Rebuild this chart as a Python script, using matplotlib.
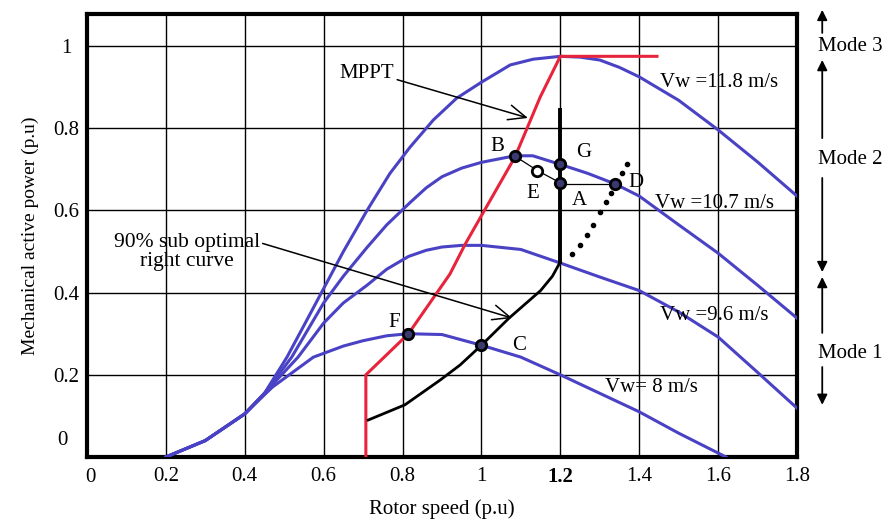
import matplotlib
matplotlib.use("Agg")
import matplotlib.pyplot as plt

plt.rcParams['font.family'] = ['Liberation Serif', 'DejaVu Serif']

# power curves at four wind speeds
vw118_x = [0.2, 0.3, 0.4, 0.45, 0.507, 0.55, 0.6, 0.65, 0.71, 0.768, 0.819, 0.878, 0.937, 1.0,
           1.073, 1.131, 1.2, 1.25, 1.3, 1.35, 1.4, 1.5, 1.6, 1.7, 1.8]
vw118_y = [0.0, 0.04, 0.105, 0.155, 0.243, 0.32, 0.41, 0.50, 0.60, 0.69, 0.754, 0.82, 0.873, 0.912,
           0.954, 0.968, 0.975, 0.973, 0.966, 0.948, 0.925, 0.868, 0.796, 0.718, 0.635]

vw107_x = [0.2, 0.3, 0.4, 0.45, 0.519, 0.6, 0.65, 0.71, 0.76, 0.82, 0.86, 0.9, 0.95, 1.0, 1.085,
           1.13, 1.2, 1.27, 1.34, 1.4, 1.5, 1.6, 1.7, 1.8]
vw107_y = [0.0, 0.04, 0.105, 0.155, 0.243, 0.375, 0.44, 0.51, 0.565, 0.62, 0.655, 0.682, 0.703, 0.717,
           0.733, 0.733, 0.712, 0.69, 0.664, 0.635, 0.565, 0.496, 0.418, 0.338]

vw96_x = [0.2, 0.3, 0.4, 0.45, 0.535, 0.6, 0.65, 0.71, 0.76, 0.815, 0.86, 0.9, 0.95, 1.0, 1.1, 1.2,
          1.3, 1.4, 1.5, 1.6, 1.7, 1.8]
vw96_y = [0.0, 0.04, 0.105, 0.155, 0.243, 0.326, 0.375, 0.418, 0.457, 0.488, 0.503, 0.511, 0.515, 0.515,
          0.505, 0.472, 0.438, 0.405, 0.353, 0.292, 0.206, 0.119]

vw8_x = [0.2, 0.3, 0.4, 0.47, 0.574, 0.65, 0.7, 0.76, 0.815, 0.9, 1.0, 1.1, 1.2, 1.3, 1.4, 1.5, 1.62]
vw8_y = [0.0, 0.04, 0.105, 0.17, 0.243, 0.27, 0.283, 0.295, 0.30, 0.298, 0.272, 0.243, 0.20, 0.155,
         0.11, 0.058, 0.0]

# MPPT trajectory (red)
mppt_x = [0.707, 0.707, 0.815, 0.92, 0.96, 1.085, 1.149, 1.2, 1.445]
mppt_y = [0.0, 0.2, 0.30, 0.445, 0.52, 0.73, 0.876, 0.975, 0.975]

# 90% sub optimal right curve (black)
sub_x = [0.713, 0.806, 0.895, 0.946, 1.0, 1.07, 1.15, 1.18, 1.2]
sub_y = [0.09, 0.127, 0.187, 0.224, 0.272, 0.338, 0.405, 0.44, 0.475]

# speed limit line at 1.2 p.u
limit_x = [1.2, 1.2]
limit_y = [0.475, 0.845]

# dots of the dotted line
dot_x = [1.229, 1.25, 1.267, 1.282, 1.30, 1.315, 1.328, 1.356, 1.37]
dot_y = [0.494, 0.516, 0.54, 0.564, 0.597, 0.621, 0.643, 0.69, 0.713]

# operating points
pt_names = ['B', 'G', 'E', 'A', 'D', 'C', 'F']
pt_x = [1.085, 1.2, 1.142, 1.2, 1.338, 1.0, 0.815]
pt_y = [0.732, 0.712, 0.697, 0.667, 0.664, 0.272, 0.30]
lbl_x = [1.04, 1.258, 1.131, 1.248, 1.392, 1.095, 0.778]
lbl_y = [0.755, 0.74, 0.642, 0.625, 0.667, 0.272, 0.328]

vw_labels = ['Vw =11.8 m/s', 'Vw =10.7 m/s', 'Vw =9.6 m/s', 'Vw= 8 m/s']
vw_lbl_x = [1.453, 1.44, 1.453, 1.313]
vw_lbl_y = [0.912, 0.618, 0.345, 0.17]

xticks = [0.2, 0.4, 0.6, 0.8, 1.0, 1.2, 1.4, 1.6, 1.8]
xtick_labels = ['0.2', '0.4', '0.6', '0.8', '1', '1.2', '1.4', '1.6', '1.8']
yticks = [0.2, 0.4, 0.6, 0.8, 1.0]
ytick_labels = ['0.2', '0.4', '0.6', '0.8', '1']

blue = '#4a42c4'
red = '#e8243c'
fs = 15

fig = plt.figure(figsize=(8.94, 5.22), dpi=100)
ax = fig.add_axes([0.0973, 0.1245, 0.7942, 0.8487])

for xs, ys in [(vw118_x, vw118_y), (vw107_x, vw107_y), (vw96_x, vw96_y), (vw8_x, vw8_y)]:
    ax.plot(xs, ys, color=blue, lw=2.2, zorder=3, solid_joinstyle='round')

ax.plot(mppt_x, mppt_y, color=red, lw=2.2, zorder=4)
ax.plot(sub_x, sub_y, color='black', lw=2.0, zorder=4, solid_joinstyle='round')
ax.plot(limit_x, limit_y, color='black', lw=2.8, zorder=4)
ax.plot(dot_x, dot_y, linestyle='none', marker='o', ms=3, color='black', zorder=4)

# thin connecting lines B-E-A and A-D
ax.plot([pt_x[0], pt_x[2], pt_x[3]], [pt_y[0], pt_y[2], pt_y[3]], color='black', lw=0.9, zorder=4)
ax.plot([pt_x[3], pt_x[4]], [pt_y[4], pt_y[4]], color='black', lw=0.9, zorder=4)

for name, x, y, lx, ly in zip(pt_names, pt_x, pt_y, lbl_x, lbl_y):
    face = 'white' if name == 'E' else '#3a3a70'
    ax.plot(x, y, marker='o', ms=7.5, mfc=face, mec='black', mew=2.0, zorder=6)
    ax.text(lx, ly, name, fontsize=fs, ha='center', va='center', zorder=6)

for txt, x, y in zip(vw_labels, vw_lbl_x, vw_lbl_y):
    ax.text(x, y, txt, fontsize=fs, ha='left', va='center', zorder=5)

# annotations
ax.annotate('MPPT', xy=(1.118, 0.825), xytext=(0.71, 0.934), fontsize=fs,
            ha='center', va='center',
            arrowprops=dict(arrowstyle='->,head_length=0.7,head_width=0.3', color='black',
                            lw=1.1, shrinkA=0, shrinkB=0,
                            relpos=(1.0, 0.2), mutation_scale=18), zorder=6)
ax.annotate('90% sub optimal\nright curve', xy=(1.078, 0.338), xytext=(0.253, 0.499),
            fontsize=15.5, ha='center', va='center', linespacing=0.95,
            arrowprops=dict(arrowstyle='->,head_length=0.7,head_width=0.3', color='black',
                            lw=1.1, shrinkA=0, shrinkB=0,
                            relpos=(1.0, 0.75), mutation_scale=18), zorder=6)

# mode arrows on the right side
arrow_x = 1.864
mode_arrows = [(1.032, 1.088), (0.776, 0.966), (0.679, 0.45), (0.302, 0.438), (0.219, 0.127)]
for y0, y1 in mode_arrows:
    ax.annotate('', xy=(arrow_x, y1), xytext=(arrow_x, y0), annotation_clip=False,
                arrowprops=dict(arrowstyle='-|>,head_length=0.5,head_width=0.25',
                                color='black', lw=1.3, shrinkA=0, shrinkB=0,
                                mutation_scale=12))
mode_names = ['Mode 3', 'Mode 2', 'Mode 1']
mode_y = [0.998, 0.723, 0.253]
for name, y in zip(mode_names, mode_y):
    ax.text(1.853, y, name, fontsize=fs, ha='left', va='center', clip_on=False)

ax.set_xlim(0, 1.8)
ax.set_ylim(0, 1.078)
ax.set_xticks(xticks)
ax.set_xticklabels(xtick_labels, fontsize=fs)
ax.set_yticks(yticks)
ax.set_yticklabels(ytick_labels, fontsize=fs, ha='center')
ax.tick_params(axis='both', length=0)
ax.tick_params(axis='x', pad=7)
ax.tick_params(axis='y', pad=15)
for lbl in ax.get_xticklabels():
    if lbl.get_text() == '1.2':
        lbl.set_fontweight('bold')

ax.text(-0.062, 0.04, '0', fontsize=fs, ha='center', va='center')
ax.text(0.01, -0.05, '0', fontsize=fs, ha='center', va='center')

ax.grid(True, color='black', lw=1.0)
ax.set_axisbelow(True)
for sp in ax.spines.values():
    sp.set_linewidth(3)

ax.set_xlabel('Rotor speed (p.u)', fontsize=fs, labelpad=9)
ax.set_ylabel('Mechanical active power (p.u)', fontsize=14, labelpad=10)

fig.savefig('out.png', dpi=100)
